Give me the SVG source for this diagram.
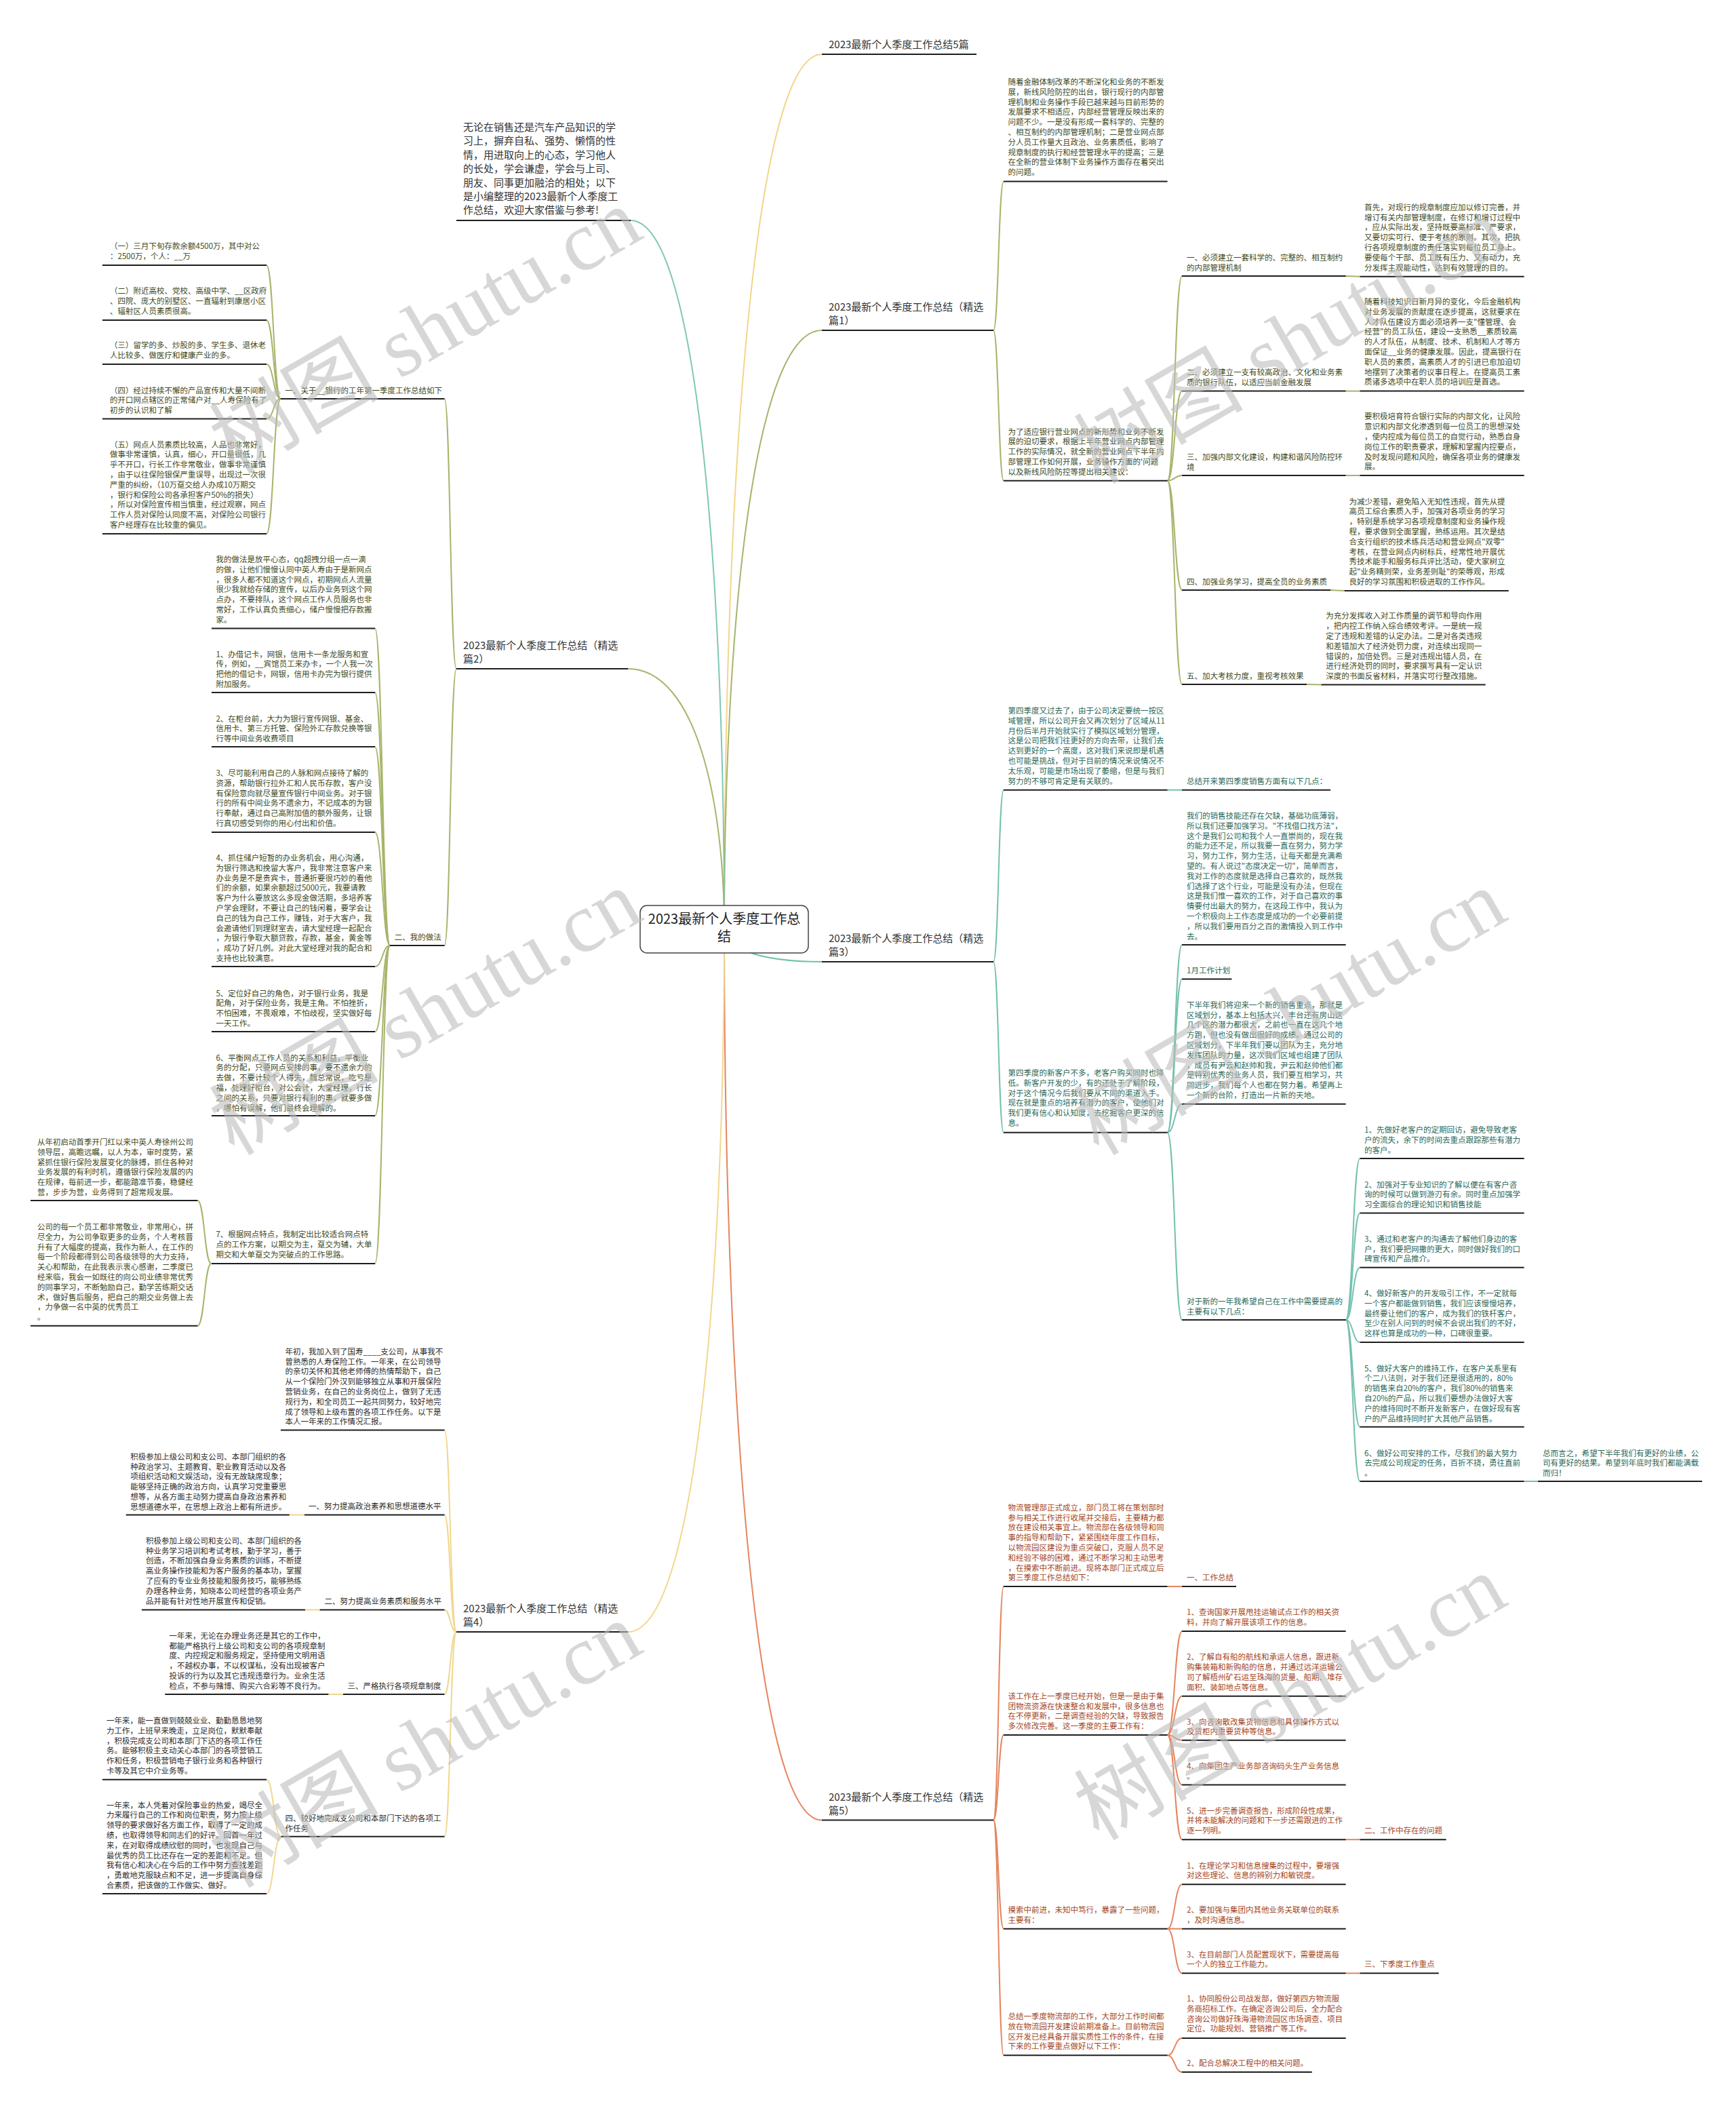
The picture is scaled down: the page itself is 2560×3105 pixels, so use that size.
<svg xmlns="http://www.w3.org/2000/svg" width="2560" height="3105" viewBox="0 0 2560 3105">
<style>
.t{font-family:"Noto Sans CJK SC","Noto Sans",sans-serif;font-size:11.5px}
.og{fill:#3e4a1c}
.tl{fill:#2a6858}
.bk{fill:#2d2d2d}
.rd{fill:#a4451c}
.br{font-family:"Noto Sans CJK SC","Noto Sans",sans-serif;font-size:15px;fill:#333}
.ul{stroke:#1e1e1e;stroke-width:2;fill:none}
.c{fill:none;stroke-width:2}
.cO{stroke:#a6b56b}
.cT{stroke:#74c1ae}
.cY{stroke:#f1d78f}
.cR{stroke:#e6845c}
.cI{stroke:#7fc7b7}
.c5{stroke:#f3d58a}
.wm{font-family:"Liberation Serif","Noto Sans CJK SC",serif;font-size:125px;fill:#bdbdbd;fill-opacity:0.6}
</style>
<rect width="2560" height="3105" fill="#ffffff"/>

<g id="connectors">
<path class="c c5" d="M1068,1370 C1068,725 1111,80 1212,80"/>
<path class="c cO" d="M1068,1370 C1068,928 1111,487 1212,487"/>
<path class="c cT" d="M1068,1370 C1068,1394 1111,1418 1212,1418"/>
<path class="c cR" d="M1068,1370 C1068,2027 1111,2683.5 1212,2683.5"/>
<path class="c cI" d="M1068,1370 C1068,847 1027,325 930,325"/>
<path class="c cO" d="M1068,1370 C1068,1178 1025,986 926,986"/>
<path class="c cY" d="M1068,1370 C1068,1888 1025,2406 926,2406"/>

<path class="c cO" d="M673,986 C664,986 664,588 655.5,588"/>
<path class="c cO" d="M673,986 C664,986 664,1394 655.5,1394"/>
<path class="c cO" d="M413.8,588 C403.4,588 403.4,391 393,391"/>
<path class="c cO" d="M413.8,588 C403.4,588 403.4,472 393,472"/>
<path class="c cO" d="M413.8,588 C403.4,588 403.4,537 393,537"/>
<path class="c cO" d="M413.8,588 C403.4,588 403.4,617.5 393,617.5"/>
<path class="c cO" d="M413.8,588 C403.4,588 403.4,787 393,787"/>
<path class="c cO" d="M575,1394 C564,1394 564,926.5 553,926.5"/>
<path class="c cO" d="M575,1394 C564,1394 564,1021 553,1021"/>
<path class="c cO" d="M575,1394 C564,1394 564,1101 553,1101"/>
<path class="c cO" d="M575,1394 C564,1394 564,1227 553,1227"/>
<path class="c cO" d="M575,1394 C564,1394 564,1425 553,1425"/>
<path class="c cO" d="M575,1394 C564,1394 564,1521 553,1521"/>
<path class="c cO" d="M575,1394 C564,1394 564,1645 553,1645"/>
<path class="c cO" d="M575,1394 C564,1394 564,1863 553,1863"/>
<path class="c cO" d="M311.5,1863 C301.5,1863 301.5,1770 291.5,1770"/>
<path class="c cO" d="M311.5,1863 C301.5,1863 301.5,1954.7 291.5,1954.7"/>

<path class="c cY" d="M673,2406 C664,2406 664,2108.6 655.5,2108.6"/>
<path class="c cY" d="M673,2406 C664,2406 664,2233.5 655.5,2233.5"/>
<path class="c cY" d="M673,2406 C664,2406 664,2373.5 655.5,2373.5"/>
<path class="c cY" d="M673,2406 C664,2406 664,2498 655.5,2498"/>
<path class="c cY" d="M673,2406 C664,2406 664,2707.8 655.5,2707.8"/>
<path class="c cY" d="M449,2233.5 L426.8,2233.5"/>
<path class="c cY" d="M471.6,2373.5 L450,2373.5"/>
<path class="c cY" d="M506,2498 L484.4,2498"/>
<path class="c cY" d="M414.4,2707.8 C403.7,2707.8 403.7,2623.7 393,2623.7"/>
<path class="c cY" d="M414.4,2707.8 C403.7,2707.8 403.7,2792 393,2792"/>

<path class="c cO" d="M1465,487 C1472.5,487 1472.5,267.5 1480,267.5"/>
<path class="c cO" d="M1465,487 C1472.5,487 1472.5,708.8 1480,708.8"/>
<path class="c cO" d="M1721.6,708.8 C1732.3,708.8 1732.3,407 1743,407"/>
<path class="c cO" d="M1721.6,708.8 C1732.3,708.8 1732.3,576.6 1743,576.6"/>
<path class="c cO" d="M1721.6,708.8 C1732.3,708.8 1732.3,701 1743,701"/>
<path class="c cO" d="M1721.6,708.8 C1732.3,708.8 1732.3,870 1743,870"/>
<path class="c cO" d="M1721.6,708.8 C1732.3,708.8 1732.3,1009 1743,1009"/>
<path class="c cO" d="M1984.6,407 L2005.4,407.7"/>
<path class="c cO" d="M1984.6,576.6 L2005.4,576.6"/>
<path class="c cO" d="M1984.6,701 L2005.4,701"/>
<path class="c cO" d="M1962,870 L1982.6,871"/>
<path class="c cO" d="M1927,1009 L1948.4,1009.4"/>

<path class="c cT" d="M1465,1418 C1472.5,1418 1472.5,1164.7 1480,1164.7"/>
<path class="c cT" d="M1465,1418 C1472.5,1418 1472.5,1669.7 1480,1669.7"/>
<path class="c cT" d="M1721.6,1164.7 L1743,1164.7"/>
<path class="c cT" d="M1721.6,1669.7 C1732.3,1669.7 1732.3,1393 1743,1393"/>
<path class="c cT" d="M1721.6,1669.7 C1732.3,1669.7 1732.3,1443.6 1743,1443.6"/>
<path class="c cT" d="M1721.6,1669.7 C1732.3,1669.7 1732.3,1627.7 1743,1627.7"/>
<path class="c cT" d="M1721.6,1669.7 C1732.3,1669.7 1732.3,1946 1743,1946"/>
<path class="c cT" d="M1984.6,1946 C1995,1946 1995,1708 2005.4,1708"/>
<path class="c cT" d="M1984.6,1946 C1995,1946 1995,1788.6 2005.4,1788.6"/>
<path class="c cT" d="M1984.6,1946 C1995,1946 1995,1868.8 2005.4,1868.8"/>
<path class="c cT" d="M1984.6,1946 C1995,1946 1995,1979 2005.4,1979"/>
<path class="c cT" d="M1984.6,1946 C1995,1946 1995,2103.8 2005.4,2103.8"/>
<path class="c cT" d="M1984.6,1946 C1995,1946 1995,2184 2005.4,2184"/>
<path class="c cT" d="M2247.6,2184 L2268,2184"/>

<path class="c cR" d="M1465,2683.5 C1472.5,2683.5 1472.5,2339 1480,2339"/>
<path class="c cR" d="M1465,2683.5 C1472.5,2683.5 1472.5,2558 1480,2558"/>
<path class="c cR" d="M1465,2683.5 C1472.5,2683.5 1472.5,2843.7 1480,2843.7"/>
<path class="c cR" d="M1465,2683.5 C1472.5,2683.5 1472.5,3030.3 1480,3030.3"/>
<path class="c cR" d="M1721.6,2339 L1743,2339"/>
<path class="c cR" d="M1721.6,2558 C1732.3,2558 1732.3,2405 1743,2405"/>
<path class="c cR" d="M1721.6,2558 C1732.3,2558 1732.3,2500.8 1743,2500.8"/>
<path class="c cR" d="M1721.6,2558 C1732.3,2558 1732.3,2565.8 1743,2565.8"/>
<path class="c cR" d="M1721.6,2558 C1732.3,2558 1732.3,2631.4 1743,2631.4"/>
<path class="c cR" d="M1721.6,2558 C1732.3,2558 1732.3,2712.2 1743,2712.2"/>
<path class="c cR" d="M1984.6,2712.2 L2005.4,2712.2"/>
<path class="c cR" d="M1721.6,2843.7 C1732.3,2843.7 1732.3,2778.2 1743,2778.2"/>
<path class="c cR" d="M1721.6,2843.7 L1743,2843.7"/>
<path class="c cR" d="M1721.6,2843.7 C1732.3,2843.7 1732.3,2909.3 1743,2909.3"/>
<path class="c cR" d="M1984.6,2909.3 L2005.4,2909.3"/>
<path class="c cR" d="M1721.6,3030.3 C1732.3,3030.3 1732.3,3005 1743,3005"/>
<path class="c cR" d="M1721.6,3030.3 C1732.3,3030.3 1732.3,3055 1743,3055"/>
</g>

<g id="center">
<rect x="944" y="1335" width="248" height="70" rx="10" fill="#ffffff" stroke="#444" stroke-width="1.5"/>
<text font-family="Noto Sans CJK SC, Noto Sans, sans-serif" font-size="20" fill="#222" text-anchor="middle"><tspan x="1068" y="1362">2023最新个人季度工作总</tspan><tspan x="1068" y="1388">结</tspan></text>
</g>

<!-- branch labels -->
<g id="br5"><text class="br"><tspan x="1222" y="71">2023最新个人季度工作总结5篇</tspan></text><line class="ul" x1="1212" y1="80" x2="1440" y2="80"/></g>
<g id="br1"><text class="br"><tspan x="1222" y="458">2023最新个人季度工作总结（精选</tspan><tspan x="1222" dy="19.5">篇1）</tspan></text><line class="ul" x1="1212" y1="487" x2="1465" y2="487"/></g>
<g id="br3"><text class="br"><tspan x="1222" y="1389">2023最新个人季度工作总结（精选</tspan><tspan x="1222" dy="19.5">篇3）</tspan></text><line class="ul" x1="1212" y1="1418" x2="1465" y2="1418"/></g>
<g id="br5b"><text class="br"><tspan x="1222" y="2655">2023最新个人季度工作总结（精选</tspan><tspan x="1222" dy="19.5">篇5）</tspan></text><line class="ul" x1="1212" y1="2683.5" x2="1465" y2="2683.5"/></g>
<g id="intro"><text class="br"><tspan x="683" y="193">无论在销售还是汽车产品知识的学</tspan><tspan x="683" dy="20.4">习上，摒弃自私、强势、懒惰的性</tspan><tspan x="683" dy="20.4">情，用进取向上的心态，学习他人</tspan><tspan x="683" dy="20.4">的长处，学会谦虚，学会与上司、</tspan><tspan x="683" dy="20.4">朋友、同事更加融洽的相处；以下</tspan><tspan x="683" dy="20.4">是小编整理的2023最新个人季度工</tspan><tspan x="683" dy="20.4">作总结，欢迎大家借鉴与参考!</tspan></text><line class="ul" x1="673" y1="325" x2="930" y2="325"/></g>
<g id="br2"><text class="br"><tspan x="683" y="957">2023最新个人季度工作总结（精选</tspan><tspan x="683" dy="19.5">篇2）</tspan></text><line class="ul" x1="673" y1="986" x2="926" y2="986"/></g>
<g id="br4"><text class="br"><tspan x="683" y="2377">2023最新个人季度工作总结（精选</tspan><tspan x="683" dy="19.5">篇4）</tspan></text><line class="ul" x1="673" y1="2406" x2="926" y2="2406"/></g>

<!-- section 2 (left top) -->
<g id="a1"><text class="t og"><tspan x="162" y="367.3">（一）三月下旬存款余额4500万，其中对公</tspan><tspan x="162" dy="14.8">：2500万，个人：__万</tspan></text><line class="ul" x1="151" y1="391" x2="393" y2="391"/></g>
<g id="a2"><text class="t og"><tspan x="162" y="433">（二）附近高校、党校、高级中学、__区政府</tspan><tspan x="162" dy="14.8">、四院、庞大的别墅区、一直辐射到康居小区</tspan><tspan x="162" dy="14.8">、辐射区人员素质很高。</tspan></text><line class="ul" x1="151" y1="472" x2="393" y2="472"/></g>
<g id="a3"><text class="t og"><tspan x="162" y="513">（三）留学的多、炒股的多、学生多、退休老</tspan><tspan x="162" dy="14.8">人比较多、做医疗和健康产业的多。</tspan></text><line class="ul" x1="151" y1="537" x2="393" y2="537"/></g>
<g id="a4"><text class="t og"><tspan x="162" y="579.5">（四）经过持续不懈的产品宣传和大量不间断</tspan><tspan x="162" dy="14.8">的开口网点辖区的正常储户对__人寿保险有了</tspan><tspan x="162" dy="14.8">初步的认识和了解</tspan></text><line class="ul" x1="151" y1="617.5" x2="393" y2="617.5"/></g>
<g id="a5"><text class="t og"><tspan x="162" y="659.5">（五）网点人员素质比较高，人品也非常好，</tspan><tspan x="162" dy="14.8">做事非常谨慎，认真，细心，开口量很低，几</tspan><tspan x="162" dy="14.8">乎不开口，行长工作非常敬业，做事非常谨慎</tspan><tspan x="162" dy="14.8">，由于以往保险银保严重误导，出现过一次很</tspan><tspan x="162" dy="14.8">严重的纠纷，（10万趸交给人办成10万期交</tspan><tspan x="162" dy="14.8">，银行和保险公司各承担客户50%的损失）</tspan><tspan x="162" dy="14.8">，所以对保险宣传相当慎重，经过观察，网点</tspan><tspan x="162" dy="14.8">工作人员对保险认同度不高，对保险公司银行</tspan><tspan x="162" dy="14.8">客户经理存在比较重的偏见。</tspan></text><line class="ul" x1="151" y1="787" x2="393" y2="787"/></g>
<g id="p1"><text class="t og"><tspan x="420.6" y="579.5">一、关于__银行的工年第一季度工作总结如下</tspan></text><line class="ul" x1="413.8" y1="588" x2="655.5" y2="588"/></g>
<g id="b0"><text class="t og"><tspan x="318.4" y="829">我的做法是放平心态，qq超拽分组一点一滴</tspan><tspan x="318.4" dy="14.8">的做，让他们慢慢认同中英人寿由于是新网点</tspan><tspan x="318.4" dy="14.8">，很多人都不知道这个网点，初期网点人流量</tspan><tspan x="318.4" dy="14.8">很少我就给存储的宣传，以后办业务到这个网</tspan><tspan x="318.4" dy="14.8">点办，不要排队，这个网点工作人员服务也非</tspan><tspan x="318.4" dy="14.8">常好，工作认真负责细心，储户慢慢把存款搬</tspan><tspan x="318.4" dy="14.8">家。</tspan></text><line class="ul" x1="312" y1="926.5" x2="553" y2="926.5"/></g>
<g id="b1"><text class="t og"><tspan x="318.4" y="968.5">1、办借记卡，网银，信用卡一条龙服务和宣</tspan><tspan x="318.4" dy="14.8">传，例如，__宾馆员工来办卡，一个人我一次</tspan><tspan x="318.4" dy="14.8">把他的借记卡，网银，信用卡办完为银行提供</tspan><tspan x="318.4" dy="14.8">附加服务。</tspan></text><line class="ul" x1="312" y1="1021" x2="553" y2="1021"/></g>
<g id="b2"><text class="t og"><tspan x="318.4" y="1063.6">2、在柜台前，大力为银行宣传网银、基金、</tspan><tspan x="318.4" dy="14.8">信用卡、第三方托管、保险外汇存款兑换等银</tspan><tspan x="318.4" dy="14.8">行等中间业务收费项目</tspan></text><line class="ul" x1="312" y1="1101" x2="553" y2="1101"/></g>
<g id="b3"><text class="t og"><tspan x="318.4" y="1144">3、尽可能利用自己的人脉和网点接待了解的</tspan><tspan x="318.4" dy="14.8">资源，帮助银行拉外汇和人民币存款，客户没</tspan><tspan x="318.4" dy="14.8">有保险意向就尽量宣传银行中间业务。对于银</tspan><tspan x="318.4" dy="14.8">行的所有中间业务不遗余力，不记成本的为银</tspan><tspan x="318.4" dy="14.8">行奉献，通过自己高附加值的额外服务，让银</tspan><tspan x="318.4" dy="14.8">行真切感受到你的用心付出和价值。</tspan></text><line class="ul" x1="312" y1="1227" x2="553" y2="1227"/></g>
<g id="b4"><text class="t og"><tspan x="318.4" y="1269">4、抓住储户短暂的办业务机会，用心沟通，</tspan><tspan x="318.4" dy="14.8">为银行筛选和挽留大客户，我非常注意客户来</tspan><tspan x="318.4" dy="14.8">办业务是不是贵宾卡，普通折要很巧妙的看他</tspan><tspan x="318.4" dy="14.8">们的余额，如果余额超过5000元，我要请教</tspan><tspan x="318.4" dy="14.8">客户为什么要放这么多现金做活期，多培养客</tspan><tspan x="318.4" dy="14.8">户学会理财，不要让自己的钱闲着，要学会让</tspan><tspan x="318.4" dy="14.8">自己的钱为自己工作，赚钱，对于大客户，我</tspan><tspan x="318.4" dy="14.8">会邀请他们到理财室去，请大堂经理一起配合</tspan><tspan x="318.4" dy="14.8">，为银行争取大额贷款，存款，基金，黄金等</tspan><tspan x="318.4" dy="14.8">，成功了好几例。对此大堂经理对我的配合和</tspan><tspan x="318.4" dy="14.8">支持也比较满意。</tspan></text><line class="ul" x1="312" y1="1425" x2="553" y2="1425"/></g>
<g id="b5"><text class="t og"><tspan x="318.4" y="1468.5">5、定位好自己的角色，对于银行业务，我是</tspan><tspan x="318.4" dy="14.8">配角，对于保险业务，我是主角。不怕挫折，</tspan><tspan x="318.4" dy="14.8">不怕困难，不畏艰难，不怕歧视，坚实做好每</tspan><tspan x="318.4" dy="14.8">一天工作。</tspan></text><line class="ul" x1="312" y1="1521" x2="553" y2="1521"/></g>
<g id="b6"><text class="t og"><tspan x="318.4" y="1563.6">6、平衡网点工作人员的关系和利益，平衡业</tspan><tspan x="318.4" dy="14.8">务的分配，只要网点安排的事，要不遗余力的</tspan><tspan x="318.4" dy="14.8">去做，不要计较个人得失，魏总常说，吃亏是</tspan><tspan x="318.4" dy="14.8">福，处理好柜台，对公会计，大堂经理，行长</tspan><tspan x="318.4" dy="14.8">之间的关系，只要对银行有利的事，就要多做</tspan><tspan x="318.4" dy="14.8">，哪怕有误解，他们最终会理解的。</tspan></text><line class="ul" x1="312" y1="1645" x2="553" y2="1645"/></g>
<g id="b7"><text class="t og"><tspan x="318.4" y="1824">7、根据网点特点，我制定出比较适合网点特</tspan><tspan x="318.4" dy="14.8">点的工作方案，以期交为主，趸交为辅，大单</tspan><tspan x="318.4" dy="14.8">期交和大单趸交为突破点的工作思路。</tspan></text><line class="ul" x1="312" y1="1863" x2="553" y2="1863"/></g>
<g id="p2"><text class="t og"><tspan x="581.8" y="1386">二、我的做法</tspan></text><line class="ul" x1="575" y1="1394" x2="655.5" y2="1394"/></g>
<g id="c1"><text class="t og"><tspan x="55" y="1688">从年初启动首季开门红以来中英人寿徐州公司</tspan><tspan x="55" dy="14.8">领导层，高瞻远瞩，以人为本，审时度势，紧</tspan><tspan x="55" dy="14.8">紧抓住银行保险发展变化的脉搏，抓住各种对</tspan><tspan x="55" dy="14.8">业务发展的有利时机，遵循银行保险发展的内</tspan><tspan x="55" dy="14.8">在规律，每前进一步，都能踏准节奏，稳健经</tspan><tspan x="55" dy="14.8">营，步步为营，业务得到了超常规发展。</tspan></text><line class="ul" x1="45" y1="1770" x2="291.5" y2="1770"/></g>
<g id="c2"><text class="t og"><tspan x="55" y="1813">公司的每一个员工都非常敬业，非常用心，拼</tspan><tspan x="55" dy="14.8">尽全力，为公司争取更多的业务，个人考核晋</tspan><tspan x="55" dy="14.8">升有了大幅度的提高，我作为新人，在工作的</tspan><tspan x="55" dy="14.8">每一个阶段都得到公司各级领导的大力支持，</tspan><tspan x="55" dy="14.8">关心和帮助，在此我表示衷心感谢，二季度已</tspan><tspan x="55" dy="14.8">经来临，我会一如既往的向公司业绩非常优秀</tspan><tspan x="55" dy="14.8">的同事学习，不断勉励自己，勤学苦练期交话</tspan><tspan x="55" dy="14.8">术，做好售后服务，把自己的期交业务做上去</tspan><tspan x="55" dy="14.8">，力争做一名中英的优秀员工</tspan><tspan x="55" dy="14.8">。</tspan></text><line class="ul" x1="45" y1="1954.7" x2="291.5" y2="1954.7"/></g>

<!-- section 4 (left bottom) -->
<g id="f0"><text class="t bk"><tspan x="420.6" y="1996.7">年初，我加入到了国寿____支公司，从事我不</tspan><tspan x="420.6" dy="14.8">曾熟悉的人寿保险工作。一年来，在公司领导</tspan><tspan x="420.6" dy="14.8">的亲切关怀和其他老师傅的热情帮助下，自己</tspan><tspan x="420.6" dy="14.8">从一个保险门外汉到能够独立从事和开展保险</tspan><tspan x="420.6" dy="14.8">营销业务，在自己的业务岗位上，做到了无违</tspan><tspan x="420.6" dy="14.8">规行为，和全司员工一起共同努力，较好地完</tspan><tspan x="420.6" dy="14.8">成了领导和上级布置的各项工作任务。以下是</tspan><tspan x="420.6" dy="14.8">本人一年来的工作情况汇报。</tspan></text><line class="ul" x1="414" y1="2108.6" x2="655.5" y2="2108.6"/></g>
<g id="f1"><text class="t bk"><tspan x="455" y="2225">一、努力提高政治素养和思想道德水平</tspan></text><line class="ul" x1="449" y1="2233.5" x2="655.5" y2="2233.5"/></g>
<g id="f1c"><text class="t bk"><tspan x="192.3" y="2151.8">积极参加上级公司和支公司、本部门组织的各</tspan><tspan x="192.3" dy="14.8">种政治学习、主题教育、职业教育活动以及各</tspan><tspan x="192.3" dy="14.8">项组织活动和文娱活动，没有无故缺席现象；</tspan><tspan x="192.3" dy="14.8">能够坚持正确的政治方向，认真学习党重要思</tspan><tspan x="192.3" dy="14.8">想等，从各方面主动努力提高自身政治素养和</tspan><tspan x="192.3" dy="14.8">思想道德水平，在思想上政治上都有所进步。</tspan></text><line class="ul" x1="185.8" y1="2233.5" x2="426.8" y2="2233.5"/></g>
<g id="f2"><text class="t bk"><tspan x="478.5" y="2364.8">二、努力提高业务素质和服务水平</tspan></text><line class="ul" x1="471.6" y1="2373.5" x2="655.5" y2="2373.5"/></g>
<g id="f2c"><text class="t bk"><tspan x="215" y="2275.8">积极参加上级公司和支公司、本部门组织的各</tspan><tspan x="215" dy="14.8">种业务学习培训和考试考核，勤于学习，善于</tspan><tspan x="215" dy="14.8">创造，不断加强自身业务素质的训练，不断提</tspan><tspan x="215" dy="14.8">高业务操作技能和为客户服务的基本功，掌握</tspan><tspan x="215" dy="14.8">了应有的专业业务技能和服务技巧，能够熟练</tspan><tspan x="215" dy="14.8">办理各种业务，知晓本公司经营的各项业务产</tspan><tspan x="215" dy="14.8">品并能有针对性地开展宣传和促销。</tspan></text><line class="ul" x1="208.9" y1="2373.5" x2="450" y2="2373.5"/></g>
<g id="f3"><text class="t bk"><tspan x="512.6" y="2490">三、严格执行各项规章制度</tspan></text><line class="ul" x1="506" y1="2498" x2="655.5" y2="2498"/></g>
<g id="f3c"><text class="t bk"><tspan x="249.5" y="2415.8">一年来，无论在办理业务还是其它的工作中，</tspan><tspan x="249.5" dy="14.8">都能严格执行上级公司和支公司的各项规章制</tspan><tspan x="249.5" dy="14.8">度、内控规定和服务规定，坚持使用文明用语</tspan><tspan x="249.5" dy="14.8">，不越权办事，不以权谋私，没有出现被客户</tspan><tspan x="249.5" dy="14.8">投诉的行为以及其它违规违章行为。业余生活</tspan><tspan x="249.5" dy="14.8">检点，不参与赌博、购买六合彩等不良行为。</tspan></text><line class="ul" x1="243.3" y1="2498" x2="484.4" y2="2498"/></g>
<g id="f4"><text class="t bk"><tspan x="420.6" y="2684.8">四、较好地完成支公司和本部门下达的各项工</tspan><tspan x="420.6" dy="14.8">作任务</tspan></text><line class="ul" x1="414.4" y1="2707.8" x2="655.5" y2="2707.8"/></g>
<g id="f4a"><text class="t bk"><tspan x="157" y="2541">一年来，能一直做到兢兢业业、勤勤恳恳地努</tspan><tspan x="157" dy="14.8">力工作，上班早来晚走，立足岗位，默默奉献</tspan><tspan x="157" dy="14.8">，积极完成支公司和本部门下达的各项工作任</tspan><tspan x="157" dy="14.8">务。能够积极主支动关心本部门的各项营销工</tspan><tspan x="157" dy="14.8">作和任务，积极营销电子银行业务和各种银行</tspan><tspan x="157" dy="14.8">卡等及其它中介业务等。</tspan></text><line class="ul" x1="151" y1="2623.7" x2="393" y2="2623.7"/></g>
<g id="f4b"><text class="t bk"><tspan x="157" y="2665.6">一年来，本人凭着对保险事业的热爱，竭尽全</tspan><tspan x="157" dy="14.8">力来履行自己的工作和岗位职责，努力按上级</tspan><tspan x="157" dy="14.8">领导的要求做好各方面工作，取得了一定的成</tspan><tspan x="157" dy="14.8">绩，也取得领导和同志们的好评。回首一年过</tspan><tspan x="157" dy="14.8">来，在对取得成绩欣慰的同时，也发现自己与</tspan><tspan x="157" dy="14.8">最优秀的员工比还存在一定的差距和不足。但</tspan><tspan x="157" dy="14.8">我有信心和决心在今后的工作中努力查找差距</tspan><tspan x="157" dy="14.8">，勇敢地克服缺点和不足，进一步提高自身综</tspan><tspan x="157" dy="14.8">合素质，把该做的工作做实、做好。</tspan></text><line class="ul" x1="151" y1="2792" x2="393" y2="2792"/></g>

<!-- section 1 (right top) -->
<g id="r1a"><text class="t og"><tspan x="1486.5" y="125">随着金融体制改革的不断深化和业务的不断发</tspan><tspan x="1486.5" dy="14.8">展，新线风险防控的出台，银行现行的内部管</tspan><tspan x="1486.5" dy="14.8">理机制和业务操作手段已越来越与目前形势的</tspan><tspan x="1486.5" dy="14.8">发展要求不相适应，内部经营管理反映出来的</tspan><tspan x="1486.5" dy="14.8">问题不少。一是没有形成一套科学的、完整的</tspan><tspan x="1486.5" dy="14.8">、相互制约的内部管理机制；二是营业网点部</tspan><tspan x="1486.5" dy="14.8">分人员工作量大且政治、业务素质低，影响了</tspan><tspan x="1486.5" dy="14.8">规章制度的执行和经营管理水平的提高；三是</tspan><tspan x="1486.5" dy="14.8">在全新的营业体制下业务操作方面存在着突出</tspan><tspan x="1486.5" dy="14.8">的问题。</tspan></text><line class="ul" x1="1480" y1="267.5" x2="1721.6" y2="267.5"/></g>
<g id="r1b"><text class="t og"><tspan x="1486.5" y="640.6">为了适应银行营业网点的新形势和业务不断发</tspan><tspan x="1486.5" dy="14.8">展的迫切要求，根据上半年营业网点内部管理</tspan><tspan x="1486.5" dy="14.8">工作的实际情况，就全新的营业网点下半年内</tspan><tspan x="1486.5" dy="14.8">部管理工作如何开展，业务操作方面的'问题</tspan><tspan x="1486.5" dy="14.8">以及新线风险防控等提出相关建议：</tspan></text><line class="ul" x1="1480" y1="708.8" x2="1721.6" y2="708.8"/></g>
<g id="s1"><text class="t og"><tspan x="1750" y="383.8">一、必须建立一套科学的、完整的、相互制约</tspan><tspan x="1750" dy="14.8">的内部管理机制</tspan></text><line class="ul" x1="1743" y1="407" x2="1984.6" y2="407"/></g>
<g id="s2"><text class="t og"><tspan x="1750" y="553">二、必须建立一支有较高政治、文化和业务素</tspan><tspan x="1750" dy="14.8">质的银行队伍，以适应当前金融发展</tspan></text><line class="ul" x1="1743" y1="576.6" x2="1984.6" y2="576.6"/></g>
<g id="s3"><text class="t og"><tspan x="1750" y="678">三、加强内部文化建设，构建和谐风险防控环</tspan><tspan x="1750" dy="14.8">境</tspan></text><line class="ul" x1="1743" y1="701" x2="1984.6" y2="701"/></g>
<g id="s4"><text class="t og"><tspan x="1750" y="861.5">四、加强业务学习，提高全员的业务素质</tspan></text><line class="ul" x1="1743" y1="870" x2="1962" y2="870"/></g>
<g id="s5"><text class="t og"><tspan x="1750" y="1000.7">五、加大考核力度，重视考核效果</tspan></text><line class="ul" x1="1743" y1="1009" x2="1927" y2="1009"/></g>
<g id="l1"><text class="t og"><tspan x="2012" y="309.8">首先，对现行的规章制度应加以修订完善，并</tspan><tspan x="2012" dy="14.8">增订有关内部管理制度，在修订和增订过程中</tspan><tspan x="2012" dy="14.8">，应从实际出发，坚持既要高标准、严要求，</tspan><tspan x="2012" dy="14.8">又要切实可行、便于考核的原则。其次，把执</tspan><tspan x="2012" dy="14.8">行各项规章制度的责任落实到每位员工身上。</tspan><tspan x="2012" dy="14.8">要使每个干部、员工既有压力、又有动力，充</tspan><tspan x="2012" dy="14.8">分发挥主观能动性，达到有效管理的目的。</tspan></text><line class="ul" x1="2005.4" y1="407.7" x2="2247.6" y2="407.7"/></g>
<g id="l2"><text class="t og"><tspan x="2012" y="449">随着科技知识日新月异的变化，今后金融机构</tspan><tspan x="2012" dy="14.8">对业务发展的贡献度在逐步提高，这就要求在</tspan><tspan x="2012" dy="14.8">人才队伍建设方面必须培养一支"懂管理、会</tspan><tspan x="2012" dy="14.8">经营"的员工队伍，建设一支熟悉__素质较高</tspan><tspan x="2012" dy="14.8">的人才队伍，从制度、技术、机制和人才等方</tspan><tspan x="2012" dy="14.8">面保证__业务的健康发展。因此，提高银行在</tspan><tspan x="2012" dy="14.8">职人员的素质，高素质人才的引进已愈加迫切</tspan><tspan x="2012" dy="14.8">地摆到了决策者的议事日程上。在提高员工素</tspan><tspan x="2012" dy="14.8">质诸多选项中在职人员的培训应是首选。</tspan></text><line class="ul" x1="2005.4" y1="576.6" x2="2247.6" y2="576.6"/></g>
<g id="l3"><text class="t og"><tspan x="2012" y="618.4">要积极培育符合银行实际的内部文化，让风险</tspan><tspan x="2012" dy="14.8">意识和内部文化渗透到每一位员工的思想深处</tspan><tspan x="2012" dy="14.8">，使内控成为每位员工的自觉行动，熟悉自身</tspan><tspan x="2012" dy="14.8">岗位工作的职责要求，理解和掌握内控要点，</tspan><tspan x="2012" dy="14.8">及时发现问题和风险，确保各项业务的健康发</tspan><tspan x="2012" dy="14.8">展。</tspan></text><line class="ul" x1="2005.4" y1="701" x2="2247.6" y2="701"/></g>
<g id="l4"><text class="t og"><tspan x="1989.4" y="743.5">为减少差错，避免陷入无知性违规，首先从提</tspan><tspan x="1989.4" dy="14.8">高员工综合素质入手，加强对各项业务的学习</tspan><tspan x="1989.4" dy="14.8">，特别是系统学习各项规章制度和业务操作规</tspan><tspan x="1989.4" dy="14.8">程，要求做到全面掌握，熟练运用。其次是结</tspan><tspan x="1989.4" dy="14.8">合支行组织的技术练兵活动和营业网点"双零"</tspan><tspan x="1989.4" dy="14.8">考核，在营业网点内树标兵，经常性地开展优</tspan><tspan x="1989.4" dy="14.8">秀技术能手和服务标兵评比活动，使大家树立</tspan><tspan x="1989.4" dy="14.8">起"业务精则荣，业务差则耻"的荣辱观，形成</tspan><tspan x="1989.4" dy="14.8">良好的学习氛围和积极进取的工作作风。</tspan></text><line class="ul" x1="1982.6" y1="871" x2="2224.7" y2="871"/></g>
<g id="l5"><text class="t og"><tspan x="1955.3" y="912.4">为充分发挥收入对工作质量的调节和导向作用</tspan><tspan x="1955.3" dy="14.8">，把内控工作纳入综合绩效考评。一是统一规</tspan><tspan x="1955.3" dy="14.8">定了违规和差错的认定办法。二是对各类违规</tspan><tspan x="1955.3" dy="14.8">和差错加大了经济处罚力度，对连续出现同一</tspan><tspan x="1955.3" dy="14.8">错误的，加倍处罚。三是对违规出错人员，在</tspan><tspan x="1955.3" dy="14.8">进行经济处罚的同时，要求撰写具有一定认识</tspan><tspan x="1955.3" dy="14.8">深度的书面反省材料，并落实可行整改措施。</tspan></text><line class="ul" x1="1948.4" y1="1009.4" x2="2190.6" y2="1009.4"/></g>

<!-- section 3 -->
<g id="t1"><text class="t tl"><tspan x="1486.5" y="1052">第四季度又过去了，由于公司决定要统一按区</tspan><tspan x="1486.5" dy="14.8">域管理，所以公司开会又再次划分了区域从11</tspan><tspan x="1486.5" dy="14.8">月份后半月开始就实行了模拟区域划分管理，</tspan><tspan x="1486.5" dy="14.8">这是公司把我们往更好的方向去带，让我们去</tspan><tspan x="1486.5" dy="14.8">达到更好的一个高度，这对我们来说即是机遇</tspan><tspan x="1486.5" dy="14.8">也可能是挑战，但对于目前的情况来说情况不</tspan><tspan x="1486.5" dy="14.8">太乐观，可能是市场出现了萎缩，但是与我们</tspan><tspan x="1486.5" dy="14.8">努力的不够可肯定是有关联的。</tspan></text><line class="ul" x1="1480" y1="1164.7" x2="1721.6" y2="1164.7"/></g>
<g id="t1c"><text class="t tl"><tspan x="1750" y="1156">总结开来第四季度销售方面有以下几点：</tspan></text><line class="ul" x1="1743" y1="1164.7" x2="1962" y2="1164.7"/></g>
<g id="t2"><text class="t tl"><tspan x="1486.5" y="1586">第四季度的新客户不多，老客户购买同时也降</tspan><tspan x="1486.5" dy="14.8">低。新客户开发的少，有的还处于了解阶段，</tspan><tspan x="1486.5" dy="14.8">对于这个情况今后我们要从不同的渠道入手。</tspan><tspan x="1486.5" dy="14.8">现在就是重点的培养有潜力的客户，使他们对</tspan><tspan x="1486.5" dy="14.8">我们更有信心和认知度，去挖掘客户更深的信</tspan><tspan x="1486.5" dy="14.8">息。</tspan></text><line class="ul" x1="1480" y1="1669.7" x2="1721.6" y2="1669.7"/></g>
<g id="t2a"><text class="t tl"><tspan x="1750" y="1207">我们的销售技能还存在欠缺，基础功底薄弱，</tspan><tspan x="1750" dy="14.8">所以我们还要加强学习。"不找借口找方法"，</tspan><tspan x="1750" dy="14.8">这个是我们公司和我个人一直崇尚的，现在我</tspan><tspan x="1750" dy="14.8">的能力还不足，所以我要一直在努力，努力学</tspan><tspan x="1750" dy="14.8">习，努力工作，努力生活，让每天都是充满希</tspan><tspan x="1750" dy="14.8">望的。有人说过"态度决定一切"，简单而言，</tspan><tspan x="1750" dy="14.8">我对工作的态度就是选择自己喜欢的，既然我</tspan><tspan x="1750" dy="14.8">们选择了这个行业，可能是没有办法，但现在</tspan><tspan x="1750" dy="14.8">这是我们惟一喜欢的工作，对于自己喜欢的事</tspan><tspan x="1750" dy="14.8">情要付出最大的努力，在这段工作中，我认为</tspan><tspan x="1750" dy="14.8">一个积极向上工作态度是成功的一个必要前提</tspan><tspan x="1750" dy="14.8">，所以我们要用百分之百的激情投入到工作中</tspan><tspan x="1750" dy="14.8">去。</tspan></text><line class="ul" x1="1743" y1="1393" x2="1984.6" y2="1393"/></g>
<g id="t2b"><text class="t tl"><tspan x="1750" y="1435">1月工作计划</tspan></text><line class="ul" x1="1743" y1="1443.6" x2="1816.4" y2="1443.6"/></g>
<g id="t2c"><text class="t tl"><tspan x="1750" y="1485.8">下半年我们将迎来一个新的销售重点，那就是</tspan><tspan x="1750" dy="14.8">区域划分，基本上包括大兴，丰台还有房山这</tspan><tspan x="1750" dy="14.8">几个区的潜力都很大，之前也一直在这几个地</tspan><tspan x="1750" dy="14.8">方跑，但也没有做出很好的成绩。通过公司的</tspan><tspan x="1750" dy="14.8">区域划分，下半年我们要以团队为主，充分地</tspan><tspan x="1750" dy="14.8">发挥团队的力量，这次我们区域也组建了团队</tspan><tspan x="1750" dy="14.8">，成员有尹云和赵帅和我，尹云和赵帅他们都</tspan><tspan x="1750" dy="14.8">是特别优秀的业务人员，我们要互相学习，共</tspan><tspan x="1750" dy="14.8">同进步，我们每个人也都在努力着。希望再上</tspan><tspan x="1750" dy="14.8">一个新的台阶，打造出一片新的天地。</tspan></text><line class="ul" x1="1743" y1="1627.7" x2="1984.6" y2="1627.7"/></g>
<g id="t2d"><text class="t tl"><tspan x="1750" y="1923">对于新的一年我希望自己在工作中需要提高的</tspan><tspan x="1750" dy="14.8">主要有以下几点：</tspan></text><line class="ul" x1="1743" y1="1946" x2="1984.6" y2="1946"/></g>
<g id="n1"><text class="t tl"><tspan x="2012" y="1670.4">1、先做好老客户的定期回访，避免导致老客</tspan><tspan x="2012" dy="14.8">户的流失，余下的时间去重点跟踪那些有潜力</tspan><tspan x="2012" dy="14.8">的客户。</tspan></text><line class="ul" x1="2005.4" y1="1708" x2="2247.6" y2="1708"/></g>
<g id="n2"><text class="t tl"><tspan x="2012" y="1750.6">2、加强对于专业知识的了解以便在有客户咨</tspan><tspan x="2012" dy="14.8">询的时候可以做到游刃有余。同时重点加强学</tspan><tspan x="2012" dy="14.8">习全面综合的理论知识和销售技能</tspan></text><line class="ul" x1="2005.4" y1="1788.6" x2="2247.6" y2="1788.6"/></g>
<g id="n3"><text class="t tl"><tspan x="2012" y="1830.8">3、通过和老客户的沟通去了解他们身边的客</tspan><tspan x="2012" dy="14.8">户，我们要把网撒的更大，同时做好我们的口</tspan><tspan x="2012" dy="14.8">碑宣传和产品推介。</tspan></text><line class="ul" x1="2005.4" y1="1868.8" x2="2247.6" y2="1868.8"/></g>
<g id="n4"><text class="t tl"><tspan x="2012" y="1911">4、做好新客户的开发吸引工作，不一定就每</tspan><tspan x="2012" dy="14.8">一个客户都能做到销售，我们应该慢慢培养，</tspan><tspan x="2012" dy="14.8">最终要让他们的客户，成为我们的铁杆客户，</tspan><tspan x="2012" dy="14.8">至少在别人问到的时候不会说出我们的不好，</tspan><tspan x="2012" dy="14.8">这样也算是成功的一种，口碑很重要。</tspan></text><line class="ul" x1="2005.4" y1="1979" x2="2247.6" y2="1979"/></g>
<g id="n5"><text class="t tl"><tspan x="2012" y="2021.5">5、做好大客户的维持工作，在客户关系里有</tspan><tspan x="2012" dy="14.8">个二八法则，对于我们还是很适用的，80%</tspan><tspan x="2012" dy="14.8">的销售来自20%的客户，我们80%的销售来</tspan><tspan x="2012" dy="14.8">自20%的产品，所以我们要想办法做好大客</tspan><tspan x="2012" dy="14.8">户的维持同时不断开发新客户，在做好现有客</tspan><tspan x="2012" dy="14.8">户的产品维持同时扩大其他产品销售。</tspan></text><line class="ul" x1="2005.4" y1="2103.8" x2="2247.6" y2="2103.8"/></g>
<g id="n6"><text class="t tl"><tspan x="2012" y="2146.5">6、做好公司安排的工作，尽我们的最大努力</tspan><tspan x="2012" dy="14.8">去完成公司规定的任务，百折不挠，勇往直前</tspan><tspan x="2012" dy="14.8">。</tspan></text><line class="ul" x1="2005.4" y1="2184" x2="2247.6" y2="2184"/></g>
<g id="n7"><text class="t tl"><tspan x="2275" y="2146.5">总而言之，希望下半年我们有更好的业绩，公</tspan><tspan x="2275" dy="14.8">司有更好的结果。希望到年底时我们都能满载</tspan><tspan x="2275" dy="14.8">而归！</tspan></text><line class="ul" x1="2268" y1="2184" x2="2510" y2="2184"/></g>

<!-- section 5 -->
<g id="v0"><text class="t rd"><tspan x="1486.5" y="2226.7">物流管理部正式成立，部门员工将在策划部时</tspan><tspan x="1486.5" dy="14.8">参与相关工作进行收尾并交接后，主要精力都</tspan><tspan x="1486.5" dy="14.8">放在建设相关事宜上。物流部在各级领导和同</tspan><tspan x="1486.5" dy="14.8">事的指导和帮助下，紧紧围绕年度工作目标，</tspan><tspan x="1486.5" dy="14.8">以物流园区建设为重点突破口，克服人员不足</tspan><tspan x="1486.5" dy="14.8">和经验不够的困难，通过不断学习和主动思考</tspan><tspan x="1486.5" dy="14.8">，在摸索中不断前进。现将本部门正式成立后</tspan><tspan x="1486.5" dy="14.8">第三季度工作总结如下：</tspan></text><line class="ul" x1="1480" y1="2339" x2="1721.6" y2="2339"/></g>
<g id="v0c"><text class="t rd"><tspan x="1750" y="2329.7">一、工作总结</tspan></text><line class="ul" x1="1743" y1="2339" x2="1823" y2="2339"/></g>
<g id="v1"><text class="t rd"><tspan x="1486.5" y="2504.8">该工作在上一季度已经开始，但是一是由于集</tspan><tspan x="1486.5" dy="14.8">团物流资源在快速整合和发展中，很多信息也</tspan><tspan x="1486.5" dy="14.8">在不停更新，二是调查经验的欠缺，导致报告</tspan><tspan x="1486.5" dy="14.8">多次修改完善。这一季度的主要工作有：</tspan></text><line class="ul" x1="1480" y1="2558" x2="1721.6" y2="2558"/></g>
<g id="v1a"><text class="t rd"><tspan x="1750" y="2381.4">1、查询国家开展甩挂运输试点工作的相关资</tspan><tspan x="1750" dy="14.8">料，并向了解开展该项工作的信息。</tspan></text><line class="ul" x1="1743" y1="2405" x2="1984.6" y2="2405"/></g>
<g id="v1b"><text class="t rd"><tspan x="1750" y="2447.4">2、了解自有船的航线和承运人信息，跟进新</tspan><tspan x="1750" dy="14.8">购集装箱和新购船的信息，并通过远洋运输公</tspan><tspan x="1750" dy="14.8">司了解梧州矿石运至珠海的货量、船期、堆存</tspan><tspan x="1750" dy="14.8">面积、装卸地点等信息。</tspan></text><line class="ul" x1="1743" y1="2500.8" x2="1984.6" y2="2500.8"/></g>
<g id="v1c"><text class="t rd"><tspan x="1750" y="2542.6">3、向咨询散改集货物信息和具体操作方式以</tspan><tspan x="1750" dy="14.8">及货柜内重要货种等信息。</tspan></text><line class="ul" x1="1743" y1="2565.8" x2="1984.6" y2="2565.8"/></g>
<g id="v1d"><text class="t rd"><tspan x="1750" y="2608">4、向集团生产业务部咨询码头生产业务信息</tspan><tspan x="1750" dy="14.8">。</tspan></text><line class="ul" x1="1743" y1="2631.4" x2="1984.6" y2="2631.4"/></g>
<g id="v1e"><text class="t rd"><tspan x="1750" y="2673.6">5、进一步完善调查报告，形成阶段性成果，</tspan><tspan x="1750" dy="14.8">并将未能解决的问题和下一步还需跟进的工作</tspan><tspan x="1750" dy="14.8">逐一列明。</tspan></text><line class="ul" x1="1743" y1="2712.2" x2="1984.6" y2="2712.2"/></g>
<g id="v1e2"><text class="t rd"><tspan x="2012" y="2703.3">二、工作中存在的问题</tspan></text><line class="ul" x1="2005.4" y1="2712.2" x2="2132.6" y2="2712.2"/></g>
<g id="v2"><text class="t rd"><tspan x="1486.5" y="2820">摸索中前进，未知中笃行，暴露了一些问题，</tspan><tspan x="1486.5" dy="14.8">主要有：</tspan></text><line class="ul" x1="1480" y1="2843.7" x2="1721.6" y2="2843.7"/></g>
<g id="v2a"><text class="t rd"><tspan x="1750" y="2754.5">1、在理论学习和信息搜集的过程中，要增强</tspan><tspan x="1750" dy="14.8">对这些理论、信息的辨别力和敏锐度。</tspan></text><line class="ul" x1="1743" y1="2778.2" x2="1984.6" y2="2778.2"/></g>
<g id="v2b"><text class="t rd"><tspan x="1750" y="2820">2、要加强与集团内其他业务关联单位的联系</tspan><tspan x="1750" dy="14.8">，及时沟通信息。</tspan></text><line class="ul" x1="1743" y1="2843.7" x2="1984.6" y2="2843.7"/></g>
<g id="v2c"><text class="t rd"><tspan x="1750" y="2885.5">3、在目前部门人员配置现状下，需要提高每</tspan><tspan x="1750" dy="14.8">一个人的独立工作能力。</tspan></text><line class="ul" x1="1743" y1="2909.3" x2="1984.6" y2="2909.3"/></g>
<g id="v2c2"><text class="t rd"><tspan x="2012" y="2900.4">三、下季度工作重点</tspan></text><line class="ul" x1="2005.4" y1="2909.3" x2="2121.7" y2="2909.3"/></g>
<g id="v3"><text class="t rd"><tspan x="1486.5" y="2977">总结一季度物流部的工作，大部分工作时间都</tspan><tspan x="1486.5" dy="14.8">放在物流园开发建设前期准备上。目前物流园</tspan><tspan x="1486.5" dy="14.8">区开发已经具备开展实质性工作的条件，在接</tspan><tspan x="1486.5" dy="14.8">下来的工作要重点做好以下工作：</tspan></text><line class="ul" x1="1480" y1="3030.3" x2="1721.6" y2="3030.3"/></g>
<g id="v3a"><text class="t rd"><tspan x="1750" y="2951">1、协同股份公司战发部，做好第四方物流服</tspan><tspan x="1750" dy="14.8">务商招标工作。在确定咨询公司后，全力配合</tspan><tspan x="1750" dy="14.8">咨询公司做好珠海港物流园区市场调查、项目</tspan><tspan x="1750" dy="14.8">定位、功能规划、营销推广等工作。</tspan></text><line class="ul" x1="1743" y1="3005" x2="1984.6" y2="3005"/></g>
<g id="v3b"><text class="t rd"><tspan x="1750" y="3046">2、配合总解决工程中的相关问题。</tspan></text><line class="ul" x1="1743" y1="3055" x2="1934.7" y2="3055"/></g>

<g id="watermark">
<text class="wm" transform="translate(345,700) rotate(-30)">树图 shutu.cn</text>
<text class="wm" transform="translate(1620,715) rotate(-30)">树图 shutu.cn</text>
<text class="wm" transform="translate(345,1705) rotate(-30)">树图 shutu.cn</text>
<text class="wm" transform="translate(1620,1705) rotate(-30)">树图 shutu.cn</text>
<text class="wm" transform="translate(345,2785) rotate(-30)">树图 shutu.cn</text>
<text class="wm" transform="translate(1620,2715) rotate(-30)">树图 shutu.cn</text>
</g>
</svg>
